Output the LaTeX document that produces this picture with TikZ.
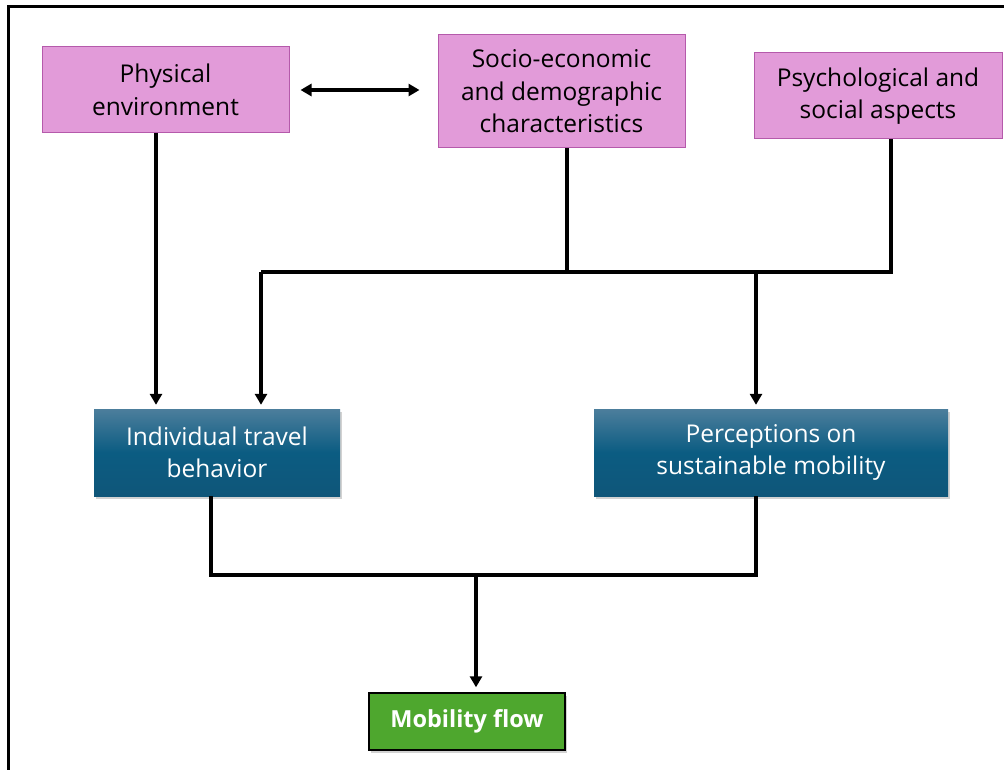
\documentclass[tikz,border=0pt]{standalone}
\usepackage{fontspec}
\setmainfont{Open Sans}
\usetikzlibrary{arrows.meta,shadows,calc}
\definecolor{pinkfill}{HTML}{E29BD9}
\definecolor{pinkline}{HTML}{B55AAB}
\definecolor{bluetop}{HTML}{4C7E9C}
\definecolor{bluemid}{HTML}{0B5C82}
\definecolor{bluebot}{HTML}{0F5679}
\definecolor{greenfill}{HTML}{4EA72E}
\begin{document}
\begin{tikzpicture}[x=1pt,y=-1pt,
  txt/.style={font=\fontsize{24.5}{32.5}\selectfont, align=center, inner sep=0pt},
  pinkbox/.style={txt, rectangle, draw=pinkline, line width=1pt, fill=pinkfill, text=black},
  bluebox/.style={txt, rectangle, draw=none, top color=bluetop, bottom color=bluebot, middle color=bluemid, text=white,
     drop shadow={opacity=0.35, shadow xshift=2pt, shadow yshift=-3pt}},
  greenbox/.style={txt, font=\fontsize{23.5}{32}\selectfont\bfseries, rectangle, draw=black, line width=1.4pt, fill=greenfill, text=white,
     drop shadow={opacity=0.35, shadow xshift=2pt, shadow yshift=-3pt}},
  ln/.style={line width=3.4pt, draw=black},
  arr/.style={ln, -{Triangle[length=11pt,width=12pt]}},
  darr/.style={ln, {Triangle[length=11pt,width=12pt]}-{Triangle[length=11pt,width=12pt]}}
]
\useasboundingbox (0,0) rectangle (1004,770);
\fill[white] (0,0) rectangle (1004,770);
% frame
\draw[line width=3pt] (8,775) -- (8,7) -- (1010,7);

\node[pinkbox, minimum width=247pt, minimum height=86pt] (phys) at (165.5,90) {Physical\\environment};
\node[pinkbox, minimum width=247pt, minimum height=113pt] (socio) at (561.5,91.5) {Socio-economic\\and demographic\\characteristics};
\node[pinkbox, minimum width=248pt, minimum height=86pt] (psych) at (878,96) {Psychological and\\social aspects};
\node[bluebox, minimum width=246pt, minimum height=87pt] (indiv) at (217,452.5) {Individual travel\\behavior};
\node[bluebox, minimum width=354pt, minimum height=87pt] (perc) at (771,452.5) {Perceptions on\\sustainable mobility};
\node[greenbox, minimum width=196pt, minimum height=57pt] (mob) at (467,721.5) {Mobility flow};

\coordinate (xPh) at (156,0);
\coordinate (jL) at (261,272);
\coordinate (jS) at (567,272);
\coordinate (jP) at (891,272);
\coordinate (jR) at (756,272);
\coordinate (bL) at (211,575);
\coordinate (bM) at (476,575);
\coordinate (bR) at (756,575);

\draw[darr, shorten <=11pt, shorten >=18pt] (phys.east) -- (socio.west |- phys.east);
\draw[arr, shorten >=4pt] (phys.south -| xPh) -- (indiv.north -| xPh);
\draw[ln] (socio.south -| jS) -- (jS);
\draw[ln] (psych.south -| jP) -- (jP) -- (jL);
\draw[arr, shorten >=4pt] (jL) -- (indiv.north -| jL);
\draw[arr, shorten >=4pt] (jR) -- (perc.north -| jR);
\draw[ln] (indiv.south -| bL) -- (bL) -- (bR) -- (perc.south -| bR);
\draw[arr, shorten >=5pt] (bM) -- (mob.north -| bM);
\end{tikzpicture}
\end{document}
